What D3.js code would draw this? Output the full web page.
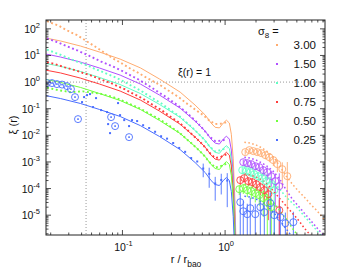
<!DOCTYPE html>
<html lang="en">
<head>
<meta charset="UTF-8">
<title>xi(r) for several sigma8</title>
<style>
  *{ margin:0; padding:0; box-sizing:border-box }
  html, body { width:360px; height:271px; background:#fff; overflow:hidden }
  svg { position:absolute; top:0; left:0; font-family:"Liberation Sans", Arial, sans-serif }
  .frame { fill:none; stroke:#222; stroke-width:1 }
  .tick  { stroke:#222; stroke-width:0.8 }
  .grid  { stroke:#999; stroke-width:1; stroke-dasharray:1 2 }
  .curve { fill:none; stroke-width:1 }
  .dotted{ fill:none; stroke-width:1.9; stroke-dasharray:1.9 2.6 }
  .far   { fill:none; stroke-width:1.5; stroke-dasharray:1.6 2.4 }
  .circ  { fill:none; stroke-width:0.9 }
  .err   { stroke-width:0.9 }
  text   { fill:#111 }
</style>
<script src="https://cdn.jsdelivr.net/npm/d3@7/dist/d3.min.js"></script>
</head>
<body>
<svg id="chart" width="360" height="271"></svg>
<script>
// ---- data ----
const sigmaLabels = ["3.00", "1.50", "1.00", "0.75", "0.50", "0.25"];
const colors = ["#ffac70", "#b050ff", "#60ffc4", "#ff3c3c", "#70ff3c", "#4a6eff"];

// solid curves (model)
const rLine   = [0.018, 0.025, 0.039, 0.06, 0.095, 0.15, 0.23, 0.365, 0.51, 0.64, 0.73, 0.80, 0.88, 0.96, 1.03, 1.10, 1.15, 1.20, 1.25, 1.31];
const line300 = [45, 35, 22.6, 13.4, 7.3, 3.4, 1.3, 0.42, 0.137, 0.058, 0.029, 0.020, 0.019, 0.029, 0.037, 0.029, 0.011, 1.3e-3, 2.6e-5, 1e-8];
const line150 = [11.3, 8.7, 5.65, 3.36, 1.83, 0.84, 0.324, 0.105, 0.0342, 0.0144, 0.0072, 0.0051, 0.0047, 0.0072, 0.0093, 0.0072, 0.0028, 3.2e-4, 6.5e-6, 1e-8];
const line100 = [5.0, 3.9, 2.5, 1.49, 0.81, 0.37, 0.144, 0.047, 0.0152, 0.0064, 0.0032, 0.0023, 0.0021, 0.0032, 0.0041, 0.0032, 0.00124, 1.4e-4, 2.9e-6, 1e-8];
const line075 = [2.8, 2.2, 1.41, 0.84, 0.46, 0.21, 0.081, 0.026, 0.0086, 0.0036, 0.0018, 0.00128, 0.00117, 0.0018, 0.0023, 0.0018, 7e-4, 8e-5, 1.6e-6, 1e-8];
const line050 = [1.26, 0.97, 0.63, 0.37, 0.203, 0.093, 0.036, 0.0117, 0.0038, 0.0016, 8e-4, 5.7e-4, 5.2e-4, 8e-4, 1.03e-3, 8e-4, 3.1e-4, 3.5e-5, 7e-7, 1e-8];
const line025 = [0.31, 0.24, 0.157, 0.093, 0.051, 0.023, 0.009, 0.0029, 9.5e-4, 4e-4, 2e-4, 1.42e-4, 1.3e-4, 2e-4, 2.6e-4, 2e-4, 7.7e-5, 8.9e-6, 1.8e-7, 1e-8];

// small-scale simulation points (dotted)
const rDots  = [0.0184, 0.0211, 0.0241, 0.0275, 0.0315, 0.0361, 0.0413, 0.0472, 0.0541, 0.0619, 0.0708, 0.0810, 0.0927, 0.106, 0.121, 0.139, 0.159, 0.182, 0.208, 0.238, 0.272, 0.312, 0.357, 0.408, 0.467, 0.535, 0.612, 0.700, 0.801, 0.917, 1.049];
const dots300 = [194, 158, 130, 97, 74, 58, 42, 30, 21.6, 15.5, 10.8, 7.7, 5.8, 4.24, 3.09, 2.36, 1.73, 1.30, 0.98, 0.73, 0.52, 0.37, 0.264, 0.173, 0.120, 0.0815, 0.0575, 0.0364, 0.0265, 0.0276, 0.0315];
const dots150 = [44, 36, 30, 24, 19.3, 15.7, 12.4, 9.8, 7.6, 5.9, 4.75, 3.8, 3.0, 2.3, 1.75, 1.34, 0.98, 0.71, 0.51, 0.36, 0.26, 0.177, 0.121, 0.079, 0.050, 0.030, 0.0171, 0.0091, 0.0061, 0.0063, 0.0072];
const dots100 = [16.6, 13.5, 11.1, 9.0, 7.2, 5.9, 4.84, 3.97, 3.11, 2.54, 2.02, 1.63, 1.29, 0.99, 0.745, 0.569, 0.419, 0.301, 0.217, 0.161, 0.110, 0.0753, 0.0537, 0.0335, 0.0214, 0.0128, 0.0076, 0.0040, 0.00247, 0.00281, 0.0035];
const dots075 = [5.55, 4.95, 4.23, 3.59, 3.12, 2.66, 2.19, 1.88, 1.54, 1.25, 1.04, 0.844, 0.663, 0.529, 0.402, 0.309, 0.236, 0.169, 0.122, 0.0907, 0.0621, 0.0424, 0.0302, 0.0189, 0.0116, 0.0072, 0.00428, 0.00228, 0.00139, 0.00158, 0.00197];
const dots050 = [0.616, 0.549, 0.492, 0.456, 0.413, 0.436, 0.447, 0.417, 0.390, 0.361, 0.313, 0.276, 0.227, 0.181, 0.144, 0.115, 0.0878, 0.0661, 0.0496, 0.0369, 0.0264, 0.0180, 0.0128, 0.00806, 0.00514, 0.0032, 0.0019, 0.00101, 0.000617, 0.000702, 0.000875];

// sigma8 = 0.25 points are noisy, kept as separate points
const blueDotsR   = [0.0404, 0.0423, 0.0452, 0.0483, 0.0517, 0.0553, 0.0619, 0.0708, 0.0725, 0.0757, 0.0906, 0.0948, 0.104, 0.116, 0.124, 0.139, 0.159, 0.182, 0.208, 0.238, 0.272, 0.312, 0.357, 0.408, 0.467, 0.535, 0.612, 0.700, 0.801, 0.917, 1.049];
const blueDotsXi  = [0.177, 0.273, 0.324, 0.354, 0.115, 0.25, 0.0886, 0.0745, 0.0264, 0.0121, 0.1625, 0.0574, 0.0373, 0.0222, 0.0373, 0.0343, 0.0240, 0.0188, 0.0136, 0.00924, 0.0075, 0.00515, 0.00336, 0.0024, 0.0014, 0.00104, 0.000566, 0.000357, 0.000155, 0.00021, 0.0002];
const blueDotsErr = [0, 0, 0, 0, 0, 0, 0, 0, 0, 0, 0, 0, 0, 0, 0, 0, 0, 0, 0, 0, 0, 0, 0, 0, 0, 0, 3e-4, 2.5e-4, 1.2e-4, 1.5e-4, 1.8e-4];
const blueRingR   = [0.0184, 0.0206, 0.0230, 0.0258, 0.0288, 0.0315, 0.0345, 0.0369, 0.0775, 0.0848, 0.116];
const blueRingXi  = [0.917, 0.917, 0.841, 0.805, 0.707, 0.545, 0.273, 0.0406, 0.0483, 0.0222, 0.00855];

// large-scale measurements (open circles with errors)
const circR300 = [1.571, 1.722, 1.884, 2.061, 2.254, 2.466, 2.698, 2.951, 3.228, 3.606, 4.036];
const circXi300 = [2.34e-3, 2.78e-3, 2.55e-3, 2.34e-3, 2.14e-3, 1.80e-3, 1.51e-3, 1.17e-3, 8.3e-4, 5.36e-4, 2.92e-4];
const circErr300 = [4.7e-4, 5.6e-4, 5.1e-4, 5.9e-4, 5.4e-4, 5.4e-4, 5.3e-4, 4.7e-4, 4.2e-4, 4.3e-4, 7e-4];
const circR150 = [1.503, 1.644, 1.799, 1.968, 2.153, 2.355, 2.576, 2.818, 3.083, 3.373];
const circXi150 = [9.8e-4, 9.0e-4, 8.3e-4, 6.95e-4, 6.38e-4, 4.92e-4, 4.14e-4, 2.92e-4, 1.90e-4, 1.23e-4];
const circErr150 = [2.5e-4, 2.3e-4, 2.5e-4, 2.1e-4, 2.2e-4, 2.0e-4, 2.1e-4, 1.75e-4, 1.7e-4, 2.5e-4];
const circR100 = [1.469, 1.607, 1.758, 1.923, 2.104, 2.301, 2.518, 2.754, 3.013];
const circXi100 = [4.92e-4, 4.51e-4, 4.14e-4, 3.48e-4, 2.92e-4, 2.46e-4, 1.90e-4, 1.34e-4, 8.7e-5];
const circErr100 = [1.5e-4, 1.35e-4, 1.45e-4, 1.2e-4, 1.2e-4, 1.2e-4, 1.15e-4, 1.1e-4, 1.05e-4];
const circR075 = [1.405, 1.538, 1.683, 1.841, 2.014, 2.203, 2.410, 2.636, 3.373];
const circXi075 = [2.07e-4, 2.46e-4, 1.90e-4, 1.74e-4, 1.46e-4, 1.13e-4, 8.7e-5, 6.15e-5, 1.54e-5];
const circErr075 = [7.2e-5, 7.4e-5, 6.7e-5, 7e-5, 6.6e-5, 5.7e-5, 6.1e-5, 5.5e-5, 2.3e-5];
const circR050 = [1.374, 1.503, 1.644, 1.799, 1.968, 2.153, 2.355, 2.576, 2.818];
const circXi050 = [9.5e-5, 1.035e-4, 8.7e-5, 8.0e-5, 6.7e-5, 5.65e-5, 4.36e-5, 3.08e-5, 2.0e-5];
const circErr050 = [3.8e-5, 4.1e-5, 3.9e-5, 4e-5, 3.7e-5, 3.4e-5, 3.5e-5, 3.1e-5, 2.6e-5];
const circR025 = [1.405, 1.503, 1.644, 1.758, 1.968, 2.203, 2.410, 2.754, 3.013, 3.451, 3.864, 4.624];
const circXi025 = [3.08e-5, 1.41e-5, 1.09e-5, 1.83e-5, 1.09e-5, 2.0e-5, 1.30e-5, 2.83e-5, 1.0e-5, 8.4e-6, 5.0e-6, 5.46e-6];
const circErr025 = [4.6e-5, 2.1e-5, 1.6e-5, 2.7e-5, 1.6e-5, 3e-5, 2e-5, 4.2e-5, 1.5e-5, 1.3e-5, 7.5e-6, 8e-6];

// large-scale dotted tails
const rFar   = [1.54, 1.76, 2.01, 2.30, 2.64, 3.01, 3.45, 3.95, 4.52, 5.18, 5.92, 6.78, 7.76, 8.87, 9.4];
const far300 = [5.5e-3, 5.1e-3, 4.3e-3, 3.3e-3, 2.3e-3, 1.4e-3, 6.4e-4, 2.9e-4, 1.46e-4, 8.0e-5, 4.75e-5, 2.6e-5, 1.54e-5, 8.4e-6, 6.0e-6];
const far150 = [1.51e-3, 1.39e-3, 1.17e-3, 9.0e-4, 6.4e-4, 4.1e-4, 2.07e-4, 8.7e-5, 4.0e-5, 2.18e-5, 1.19e-5, 6.5e-6, 3.5e-6, 1.93e-6, 1.4e-6];
const far100 = [6.95e-4, 6.4e-4, 5.4e-4, 4.1e-4, 2.9e-4, 1.74e-4, 8.7e-5, 4.75e-5, 2.83e-5, 1.68e-5, 9.2e-6, 5.0e-6, 2.73e-6, 1.5e-6, 1.0e-6];
const far075 = [3.5e-4, 3.2e-4, 2.7e-4, 2.07e-4, 1.34e-4, 7.3e-5, 4.0e-5, 2.18e-5, 1.19e-5, 6.5e-6, 3.25e-6, 1.77e-6, 1.0e-6, 5.5e-7, 4e-7];
const far050 = [1.46e-4, 1.34e-4, 1.13e-4, 8.7e-5, 5.2e-5, 2.83e-5, 1.41e-5, 7.1e-6, 3.25e-6, 1.6e-6, 8e-7, 4e-7, 2e-7, 1e-7, 7e-8];
const far025 = [5.2e-5, 4.75e-5, 4.0e-5, 3.1e-5, 2.0e-5, 1.19e-5, 6.0e-6, 3.0e-6, 1.5e-6, 7e-7, 3e-7, 1.5e-7, 7e-8, 3e-8, 2e-8];

const yExps = [-5, -4, -3, -2, -1, 0, 1, 2];
const xExps = [-1, 0];
const rMark = 0.0442;   // vertical reference line
const xiMark = 1;       // horizontal reference line

// ---- layout ----
const svg = d3.select("#chart");
const L = 46, T = 20, R = 325, B = 235;
const x = d3.scaleLog().domain([0.018, 9.4]).range([L, R]);
const y = d3.scaleLog().domain([1.8e-6, 215]).range([B, T]);

svg.append("clipPath").attr("id", "plot")
  .append("rect").attr("x", L).attr("y", T).attr("width", R - L).attr("height", B - T);
const g = svg.append("g").attr("clip-path", "url(#plot)");

// reference lines
g.append("line").attr("class", "grid")
  .attr("x1", x(rMark)).attr("x2", x(rMark)).attr("y1", T).attr("y2", B);
g.append("line").attr("class", "grid")
  .attr("x1", L).attr("x2", R).attr("y1", y(xiMark)).attr("y2", y(xiMark));

const line = d3.line().x(d => x(d[0])).y(d => y(d[1]));
const zip = (a, b) => a.map((v, i) => [v, b[i]]);

const lines = [line300, line150, line100, line075, line050, line025];
const dotSeries = [dots300, dots150, dots100, dots075, dots050];
const farSeries = [far300, far150, far100, far075, far050, far025];
const circR = [circR300, circR150, circR100, circR075, circR050, circR025];
const circXi = [circXi300, circXi150, circXi100, circXi075, circXi050, circXi025];
const circErr = [circErr300, circErr150, circErr100, circErr075, circErr050, circErr025];

// error bars first, so circles sit on top
circR.forEach((rs, k) => {
  g.append("g").selectAll("line")
    .data(rs.map((r, i) => ({ r, v: circXi[k][i], e: circErr[k][i] })))
    .join("line").attr("class", "err").attr("stroke", colors[k])
    .attr("x1", d => x(d.r)).attr("x2", d => x(d.r))
    .attr("y1", d => y(d.v + d.e))
    .attr("y2", d => d.v - d.e > 0 ? y(d.v - d.e) : B + 5);
});
g.append("g").selectAll("line")
  .data(blueDotsR.map((r, i) => ({ r, v: blueDotsXi[i], e: blueDotsErr[i] })).filter(d => d.e > 0))
  .join("line").attr("class", "err").attr("stroke", colors[5])
  .attr("x1", d => x(d.r)).attr("x2", d => x(d.r))
  .attr("y1", d => y(d.v + d.e))
  .attr("y2", d => d.v - d.e > 0 ? y(d.v - d.e) : B + 5);

// tails at large r
farSeries.forEach((s, k) => {
  g.append("path").attr("class", "far").attr("stroke", colors[k]).attr("d", line(zip(rFar, s)));
});

// model curves
lines.forEach((s, k) => {
  g.append("path").attr("class", "curve").attr("stroke", colors[k]).attr("d", line(zip(rLine, s)));
});

// small-scale dotted points
dotSeries.forEach((s, k) => {
  g.append("path").attr("class", "dotted").attr("stroke", colors[k]).attr("d", line(zip(rDots, s)));
});
g.append("g").selectAll("rect")
  .data(zip(blueDotsR, blueDotsXi)).join("rect")
  .attr("x", d => x(d[0]) - 1).attr("y", d => y(d[1]) - 1)
  .attr("width", 2).attr("height", 2).attr("fill", colors[5]);

// blue rings at small r
const rings = g.append("g").selectAll("g").data(zip(blueRingR, blueRingXi)).join("g");
rings.append("circle").attr("class", "circ").attr("stroke", colors[5])
  .attr("cx", d => x(d[0])).attr("cy", d => y(d[1])).attr("r", 3.5);
rings.append("rect").attr("fill", colors[5])
  .attr("x", d => x(d[0]) - 0.8).attr("y", d => y(d[1]) - 0.8).attr("width", 1.6).attr("height", 1.6);

// open circles
circR.forEach((rs, k) => {
  g.append("g").selectAll("circle")
    .data(zip(rs, circXi[k])).join("circle")
    .attr("class", "circ").attr("stroke", colors[k])
    .attr("cx", d => x(d[0])).attr("cy", d => y(d[1])).attr("r", 3.5);
});

// ---- frame & ticks ----
svg.append("rect").attr("class", "frame").attr("x", L).attr("y", T).attr("width", R - L).attr("height", B - T);

const xMinor = [], yMinor = [];
[0.01, 0.1, 1].forEach(d => d3.range(2, 10).forEach(k => {
  const v = k * d; if (v > 0.018 && v < 9.4) xMinor.push(v);
}));
d3.range(-6, 3).forEach(e => d3.range(2, 10).forEach(k => {
  const v = k * Math.pow(10, e); if (v > 1.8e-6 && v < 215) yMinor.push(v);
}));
const xMajor = xExps.map(e => Math.pow(10, e));
const yMajor = yExps.map(e => Math.pow(10, e));

const tk = svg.append("g");
function xTicks(vals, len) {
  vals.forEach(v => {
    tk.append("line").attr("class", "tick").attr("x1", x(v)).attr("x2", x(v)).attr("y1", B).attr("y2", B - len);
    tk.append("line").attr("class", "tick").attr("x1", x(v)).attr("x2", x(v)).attr("y1", T).attr("y2", T + len);
  });
}
function yTicks(vals, len) {
  vals.forEach(v => {
    tk.append("line").attr("class", "tick").attr("y1", y(v)).attr("y2", y(v)).attr("x1", L).attr("x2", L + len);
    tk.append("line").attr("class", "tick").attr("y1", y(v)).attr("y2", y(v)).attr("x1", R).attr("x2", R - len);
  });
}
xTicks(xMajor, 5); xTicks(xMinor, 2.5);
yTicks(yMajor, 5); yTicks(yMinor, 2.5);

function powText(t, e) {
  t.append("tspan").text("10");
  t.append("tspan").attr("dy", -5).attr("font-size", 7.5).text(e);
}
yExps.forEach(e => {
  svg.append("text").attr("x", 40).attr("y", y(Math.pow(10, e)) + 4)
    .attr("text-anchor", "end").attr("font-size", 10.5).call(powText, e);
});
xExps.forEach(e => {
  svg.append("text").attr("x", x(Math.pow(10, e)) + 1).attr("y", 251)
    .attr("text-anchor", "middle").attr("font-size", 10.5).call(powText, e);
});

// axis titles
svg.append("text").attr("transform", "translate(17,125) rotate(-90)")
  .attr("text-anchor", "middle").attr("font-size", 11).text("\u03BE (r)");
svg.append("text").attr("x", 186).attr("y", 263).attr("text-anchor", "middle").attr("font-size", 11)
  .call(t => {
    t.append("tspan").text("r / r");
    t.append("tspan").attr("dy", 4).attr("font-size", 8.5).text("bao");
  });

svg.append("text").attr("x", 178).attr("y", 76).attr("font-size", 10.5).attr("fill", "#333").text("\u03BE(r) = 1");

// ---- legend ----
svg.append("text").attr("x", 258).attr("y", 35).attr("font-size", 11)
  .call(t => {
    t.append("tspan").text("\u03C3");
    t.append("tspan").attr("dy", 3).attr("font-size", 8).text("8");
    t.append("tspan").attr("dy", -3).text(" =");
  });
sigmaLabels.forEach((s, i) => {
  const cy = 45 + i * 19;
  svg.append("rect").attr("x", 276).attr("y", cy - 1).attr("width", 2).attr("height", 2).attr("fill", colors[i]);
  svg.append("text").attr("x", 316).attr("y", cy + 4).attr("text-anchor", "end").attr("font-size", 11.5).text(s);
});
</script>
</body>
</html>
